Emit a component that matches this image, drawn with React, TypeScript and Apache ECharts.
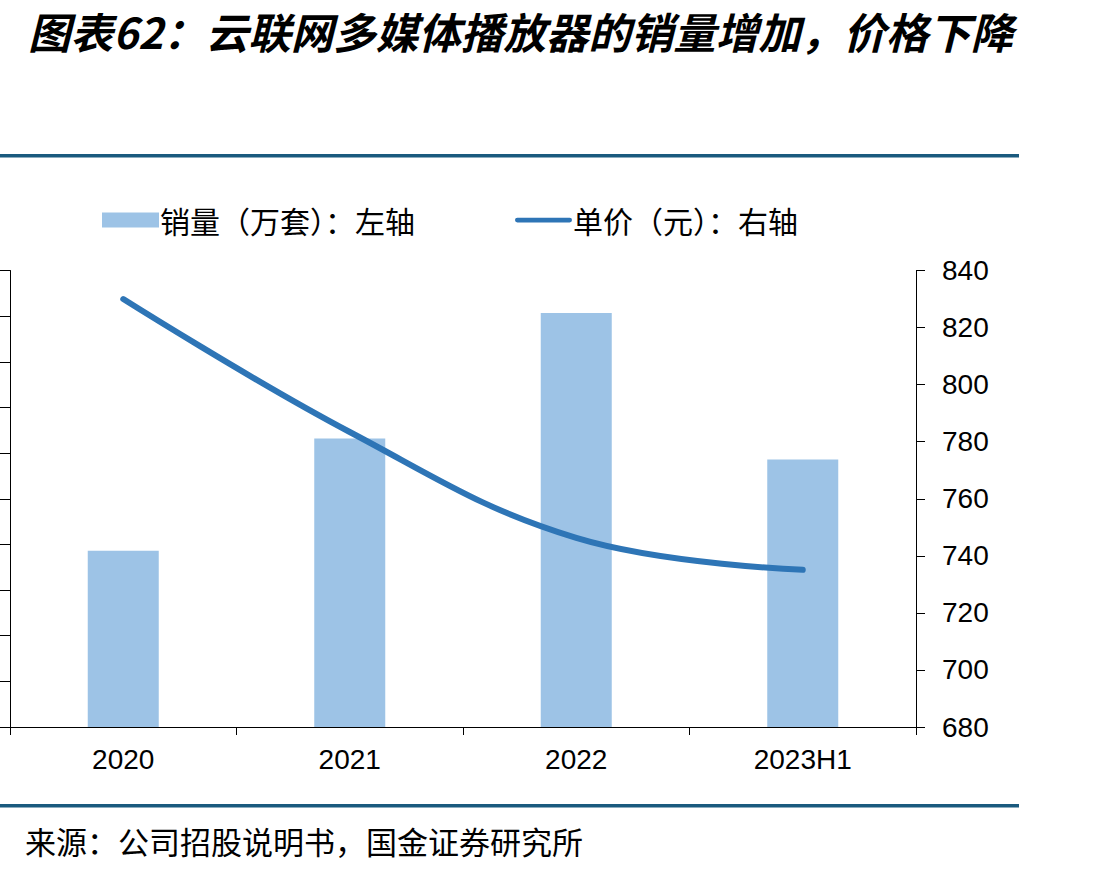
import React, { useEffect, useRef } from "react";
import * as echarts from "echarts";

const categories = ["2020", "2021", "2022", "2023H1"];
const salesValues = [38.6, 63.2, 90.7, 58.6];
const priceValues = [830, 783.4, 746.3, 735.1];
const titleText = "图表62：云联网多媒体播放器的销量增加，价格下降";
const sourceText = "来源：公司招股说明书，国金证券研究所";
const salesName = "销量（万套）：左轴";
const priceName = "单价（元）：右轴";

export default function App() {
  const ref = useRef<HTMLDivElement>(null);
  useEffect(() => {
    if (!ref.current) return;
    const chart = echarts.init(ref.current, null, { renderer: "svg" });
    const cjk = '"Noto Sans CJK SC", sans-serif';
    const latin = '"Liberation Sans", Arial, sans-serif';
    chart.setOption({
      animation: false,
      backgroundColor: "#ffffff",
      textStyle: { fontFamily: latin },
      graphic: [
        {
          type: "text",
          x: 28,
          y: 30,
          style: {
            text: titleText,
            font: `italic bold 42.5px ${cjk}`,
            fill: "#000000",
            textVerticalAlign: "middle",
            verticalAlign: "middle",
          },
        },
        {
          type: "rect",
          shape: { x: 0, y: 154, width: 1019, height: 3.5 },
          style: { fill: "#1A5A7E" },
        },
        {
          type: "rect",
          shape: { x: 0, y: 804, width: 1019, height: 3.5 },
          style: { fill: "#1A5A7E" },
        },
        {
          type: "text",
          x: 25,
          y: 840,
          style: {
            text: sourceText,
            font: `31px ${cjk}`,
            fill: "#000000",
            textVerticalAlign: "middle",
            verticalAlign: "middle",
          },
        },
      ],
      legend: {
        left: 97,
        top: 200,
        itemGap: 100,
        itemWidth: 57,
        itemHeight: 15,
        textStyle: { fontFamily: cjk, fontSize: 30, color: "#000000", padding: [0, 0, 0, -4] },
        data: [
          { name: salesName, icon: "rect" },
          { name: priceName, icon: "path://M2.5,0 L57.5,0 A2.5,2.5 0 0 1 57.5,5 L2.5,5 A2.5,2.5 0 0 1 2.5,0 Z" },
        ],
      },
      grid: { left: 10, right: 197, top: 270.5, bottom: 145, containLabel: false },
      xAxis: {
        type: "category",
        data: categories,
        boundaryGap: true,
        axisLine: { lineStyle: { color: "#000000", width: 1 } },
        axisTick: { show: true, length: 8, lineStyle: { color: "#000000" } },
        axisLabel: { fontSize: 28, color: "#000000", margin: 18, fontFamily: latin },
      },
      yAxis: [
        {
          type: "value",
          min: 0,
          max: 100,
          interval: 10,
          position: "left",
          axisLine: { show: true, lineStyle: { color: "#000000", width: 1 } },
          axisTick: { show: true, length: 10, lineStyle: { color: "#000000" } },
          axisLabel: { show: false },
          splitLine: { show: false },
        },
        {
          type: "value",
          min: 680,
          max: 840,
          interval: 20,
          position: "right",
          axisLine: { show: true, lineStyle: { color: "#000000", width: 1 } },
          axisTick: { show: true, length: 9, lineStyle: { color: "#000000" } },
          axisLabel: { fontSize: 28, color: "#000000", margin: 26, fontFamily: latin },
          splitLine: { show: false },
        },
      ],
      series: [
        {
          name: salesName,
          type: "bar",
          yAxisIndex: 0,
          data: salesValues,
          barWidth: 71,
          itemStyle: { color: "#9DC3E6" },
        },
        {
          name: priceName,
          type: "line",
          yAxisIndex: 1,
          data: priceValues,
          smooth: 0.4,
          showSymbol: false,
          symbol: "none",
          lineStyle: { color: "#2E75B6", width: 6, cap: "round" },
          itemStyle: { color: "#2E75B6" },
        },
      ],
    });
    return () => chart.dispose();
  }, []);
  return (
    <div
      ref={ref}
      style={{ position: "absolute", left: 0, top: 0, width: 1113, height: 872 }}
    />
  );
}
